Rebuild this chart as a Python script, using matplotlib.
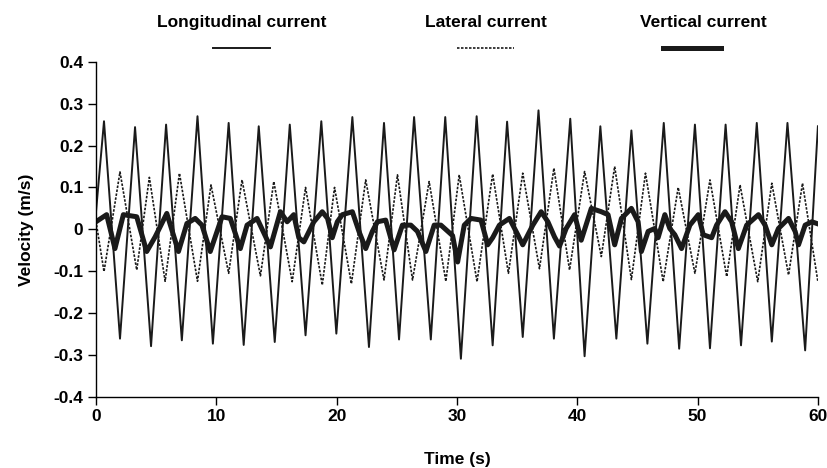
import matplotlib
matplotlib.use('Agg')
import matplotlib.pyplot as plt
from matplotlib.lines import Line2D

plt.rcParams['font.family'] = ['Liberation Sans', 'DejaVu Sans']
plt.rcParams['font.weight'] = 'bold'
plt.rcParams['axes.labelweight'] = 'bold'

# longitudinal current: alternating peaks / troughs (time s, velocity m/s)
long_t = [0.0, 0.67, 2.0, 3.25, 4.58, 5.83, 7.14, 8.44, 9.72, 11.03, 12.28, 13.53, 14.86,
          16.11, 17.42, 18.73, 19.98, 21.31, 22.69, 23.94, 25.19, 26.44, 27.83, 29.03,
          30.33, 31.64, 32.97, 34.17, 35.47, 36.78, 38.06, 39.42, 40.61, 41.92, 43.25,
          44.5, 45.83, 47.19, 48.47, 49.78, 51.03, 52.33, 53.61, 54.92, 56.17, 57.47,
          58.94, 60.0]
long_v = [0.04, 0.258, -0.261, 0.244, -0.279, 0.250, -0.265, 0.270, -0.273, 0.254, -0.276,
          0.246, -0.269, 0.250, -0.253, 0.258, -0.249, 0.268, -0.281, 0.254, -0.263, 0.268,
          -0.263, 0.268, -0.309, 0.270, -0.277, 0.257, -0.257, 0.284, -0.261, 0.264, -0.303,
          0.246, -0.261, 0.236, -0.273, 0.254, -0.285, 0.250, -0.284, 0.250, -0.277, 0.254,
          -0.268, 0.254, -0.289, 0.246]

# lateral current
lat_t = [0.0, 0.67, 2.0, 3.39, 4.44, 5.75, 6.94, 8.44, 9.56, 11.03, 12.14, 13.67, 14.78,
         16.31, 17.42, 18.81, 19.83, 21.23, 22.42, 23.94, 25.06, 26.31, 27.69, 29.08,
         30.19, 31.67, 32.97, 34.28, 35.47, 36.86, 38.06, 39.36, 40.61, 42.0, 43.11,
         44.5, 45.67, 47.14, 48.39, 49.78, 51.03, 52.42, 53.53, 55.0, 56.17, 57.56,
         58.72, 60.0]
lat_v = [0.02, -0.101, 0.137, -0.097, 0.124, -0.124, 0.134, -0.124, 0.106, -0.105, 0.118,
         -0.111, 0.114, -0.125, 0.100, -0.133, 0.100, -0.130, 0.118, -0.121, 0.130, -0.121,
         0.114, -0.124, 0.130, -0.125, 0.132, -0.105, 0.134, -0.094, 0.146, -0.097, 0.138,
         -0.065, 0.150, -0.120, 0.134, -0.125, 0.100, -0.105, 0.118, -0.113, 0.106, -0.125,
         0.110, -0.109, 0.110, -0.125]

# vertical current
vert_t = [0.0, 0.89, 1.58, 2.28, 3.39, 4.22, 4.92, 5.89, 6.86, 7.56, 8.25, 8.81, 9.5,
          10.48, 11.17, 12.0, 12.56, 13.39, 14.5, 15.33, 15.89, 16.44, 16.86, 17.28,
          18.11, 18.81, 19.25, 19.64, 20.06, 20.48, 21.31, 21.86, 22.42, 22.97, 23.39,
          24.08, 24.78, 25.47, 26.17, 26.72, 27.42, 28.11, 28.67, 29.64, 30.06, 30.61,
          31.17, 32.0, 32.56, 32.97, 33.53, 34.36, 35.06, 35.47, 36.31, 37.0, 37.56,
          38.11, 38.53, 39.08, 39.78, 40.33, 41.17, 42.0, 42.56, 43.11, 43.67, 44.5,
          45.06, 45.33, 45.89, 46.44, 46.72, 47.28, 47.69, 48.11, 48.67, 49.36, 50.06,
          50.47, 51.17, 51.58, 52.28, 52.83, 53.39, 54.08, 55.06, 55.61, 56.17, 56.72,
          57.56, 58.11, 58.39, 58.94, 59.5, 60.0]
vert_v = [0.018, 0.035, -0.046, 0.035, 0.030, -0.053, -0.018, 0.038, -0.053, 0.014, 0.026,
          0.010, -0.053, 0.030, 0.026, -0.046, 0.010, 0.026, -0.042, 0.042, 0.018, 0.035,
          -0.020, -0.030, 0.018, 0.042, 0.026, -0.020, 0.018, 0.035, 0.042, -0.005, -0.046,
          -0.005, 0.018, 0.022, -0.049, 0.010, 0.010, -0.005, -0.053, 0.010, 0.010, -0.015,
          -0.078, 0.010, 0.026, 0.022, -0.037, -0.020, 0.010, 0.026, -0.013, -0.037, 0.010,
          0.042, 0.018, -0.018, -0.040, 0.002, 0.035, -0.026, 0.050, 0.042, 0.035, -0.037,
          0.026, 0.050, 0.018, -0.053, -0.005, 0.002, -0.020, 0.035, 0.002, -0.013, -0.046,
          0.010, 0.035, -0.013, -0.020, 0.010, 0.042, 0.018, -0.046, 0.010, 0.035, 0.010,
          -0.037, 0.002, 0.026, -0.005, -0.037, 0.010, 0.018, 0.013]

x_ticks = [0, 10, 20, 30, 40, 50, 60]
y_ticks = [-0.4, -0.3, -0.2, -0.1, 0, 0.1, 0.2, 0.3, 0.4]
y_labels = ['-0.4', '-0.3', '-0.2', '-0.1', '0', '0.1', '0.2', '0.3', '0.4']

fig = plt.figure(figsize=(8.27, 4.68), dpi=100)
ax = fig.add_axes([0.116, 0.152, 0.873, 0.716])

ax.plot(long_t, long_v, color='#1a1a1a', lw=1.4, solid_joinstyle='round')
ax.plot(lat_t, lat_v, color='#1a1a1a', lw=1.2, linestyle=(0, (1.5, 0.9)))
ax.plot(vert_t, vert_v, color='#1a1a1a', lw=3.6, solid_joinstyle='round')

ax.set_xlim(0, 60)
ax.set_ylim(-0.4, 0.4)
ax.set_xticks(x_ticks)
ax.set_yticks(y_ticks)
ax.set_yticklabels(y_labels)
for s in ['top', 'right']:
    ax.spines[s].set_visible(False)
ax.spines['left'].set_linewidth(1.0)
ax.spines['bottom'].set_linewidth(1.0)
ax.tick_params(direction='out', length=6, width=1, labelsize=12.5, pad=3)
ax.set_xlabel('Time (s)', fontsize=12.5, labelpad=20)
ax.set_ylabel('Velocity (m/s)', fontsize=12.5, labelpad=14)

# legend drawn above the plot: label on top, line sample underneath
legend = [('Longitudinal current', 0.292, 0.292, '-', 1.4),
          ('Lateral current', 0.588, 0.587, (0, (1.5, 0.9)), 1.2),
          ('Vertical current', 0.850, 0.837, '-', 3.6)]
for label, tx, lx, ls, lw in legend:
    fig.text(tx, 0.951, label, ha='center', va='center', fontsize=12.5, fontweight='bold')
    fig.add_artist(Line2D([lx - 0.035, lx + 0.035], [0.897, 0.897], color='#1a1a1a',
                          lw=lw, linestyle=ls, transform=fig.transFigure))

fig.savefig('out.png', dpi=100)
